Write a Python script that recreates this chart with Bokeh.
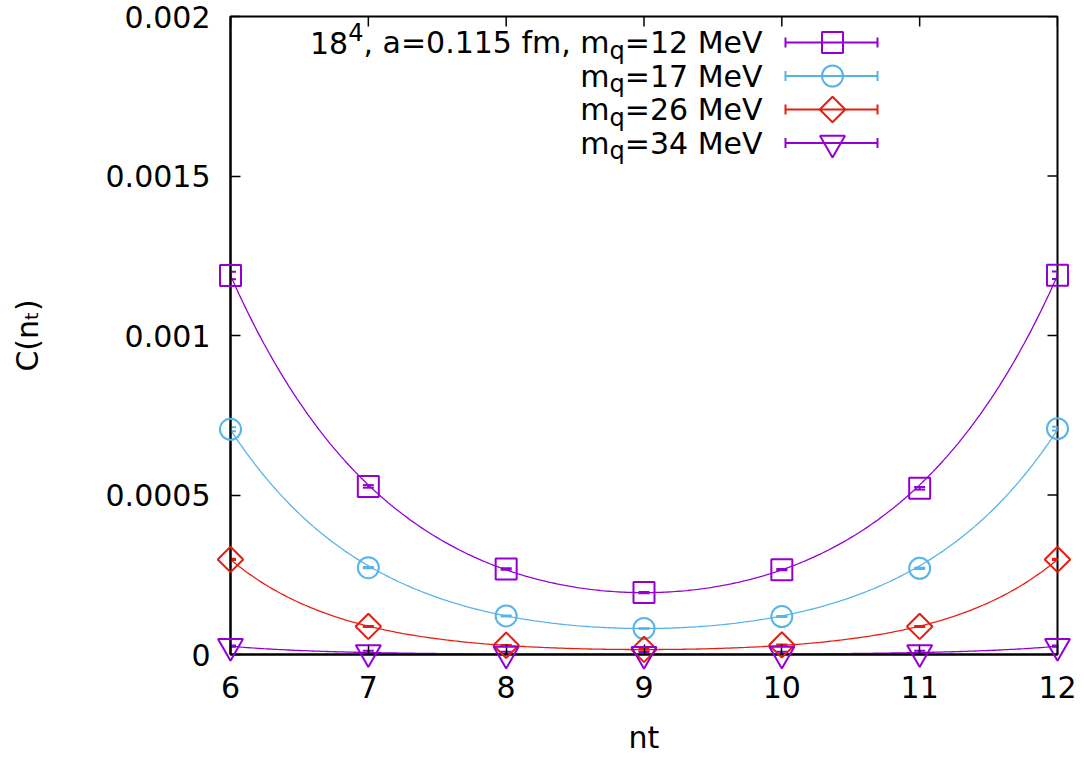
import numpy as np
from bokeh.plotting import figure
from bokeh.models import Range1d, FixedTicker, Label, Whisker, TeeHead, ColumnDataSource
from bokeh.embed import file_html
from bokeh.resources import INLINE

# ---------------- data ----------------
nt = [6, 7, 8, 9, 10, 11, 12]
c_mq12 = [0.001188, 0.000527, 0.000268, 0.000194, 0.000266, 0.000521, 0.001189]
c_mq17 = [0.000706, 0.000272, 0.000121, 0.0000815, 0.000119, 0.000270, 0.000708]
c_mq26 = [0.000298, 0.0000880, 0.0000290, 0.0000160, 0.0000300, 0.0000880, 0.000298]
c_mq34 = [0.0000260, 0.0000060, 0.0000015, 0.0000007, 0.0000015, 0.0000060, 0.0000260]
err_mq12 = [0.000012, 0.000004, 0.000002, 0.000002, 0.000002, 0.000004, 0.000012]
err_mq17 = [0.000006, 0.000002, 0.0000015, 0.000001, 0.0000015, 0.000002, 0.000006]
err_mq26 = [0.000002, 0.0000015, 0.000001, 0.000001, 0.000001, 0.0000015, 0.000002]
err_mq34 = [0.000002, 0.000006, 0.000007, 0.000007, 0.000007, 0.000006, 0.000002]
# cosh fit parameters  C(t) = A cosh(m (t - t0))
fit_amp = [0.000194, 0.0000815, 0.0000155, 0.0000007]
fit_mass = [0.833, 0.949, 1.216, 1.434]
fit_t0 = 9.0
mq_values = ["12", "17", "26", "34"]
x_ticks = [6, 7, 8, 9, 10, 11, 12]
y_ticks = [0.0, 0.0005, 0.001, 0.0015, 0.002]
y_tick_labels = ["0", "0.0005", "0.001", "0.0015", "0.002"]
x_title = "nt"
y_title = "C(n\u209c)"

series = [c_mq12, c_mq17, c_mq26, c_mq34]
errors = [err_mq12, err_mq17, err_mq26, err_mq34]
colors = ["#9400d3", "#56b4e9", "#e51e10", "#9400d3"]
markers = ["square", "circle", "square", "inverted_triangle"]
msizes = [21, 21, 18, 25]
mangles = [0.0, 0.0, np.pi / 4, 0.0]

FONT = "DejaVu Sans"
FS = 30
SUB = 24

# ---------------- layout helpers (picture px -> data) ----------------
FL, FR, FT, FB = 230, 1057, 16, 654
X0, X1, Y0, Y1 = 6.0, 12.0, 0.0, 0.002
W, H = 1080, 758


def px2x(px):
    return X0 + (px - FL) / (FR - FL) * (X1 - X0)


def px2y(py):
    return Y0 + (FB - py) / (FB - FT) * (Y1 - Y0)


ADV = {' ': 651, ',': 651, '.': 651, '=': 1716, 'a': 1255, 'f': 721, 'm': 1995, 'q': 1300,
       'M': 1767, 'e': 1260, 'V': 1401, '(': 799, ')': 799, 'C': 1430, 'n': 1298, 't': 803}


def tw(s, size):
    return sum(ADV.get(ch, 1303) for ch in s) / 2048.0 * size


p = figure(width=W, height=H, output_backend="svg", toolbar_location=None,
           x_range=Range1d(X0, X1), y_range=Range1d(Y0, Y1),
           min_border_left=FL, min_border_right=W - FR, min_border_top=FT,
           min_border_bottom=H - FB)
p.grid.visible = False
p.outline_line_color = "black"
p.outline_line_width = 2
p.background_fill_color = "white"
p.border_fill_color = "white"

p.xaxis.ticker = FixedTicker(ticks=x_ticks)
p.yaxis.ticker = FixedTicker(ticks=y_ticks)
p.yaxis.major_label_overrides = {float(v): lab for v, lab in zip(y_ticks, y_tick_labels)}
for ax in (p.xaxis, p.yaxis):
    ax.major_tick_in = 10
    ax.major_tick_out = 0
    ax.minor_tick_in = 0
    ax.minor_tick_out = 0
    ax.major_tick_line_width = 1.5
    ax.axis_line_width = 2
    ax.axis_line_color = "black"
    ax.major_tick_line_color = "black"
    ax.major_label_text_font = FONT
    ax.major_label_text_font_size = f"{FS}px"
    ax.major_label_text_color = "black"
    ax.axis_label_text_font = FONT
    ax.axis_label_text_font_size = f"{FS}px"
    ax.axis_label_text_font_style = "normal"
    ax.axis_label_text_color = "black"
p.xaxis.major_label_standoff = 21
p.yaxis.major_label_standoff = 20
p.xaxis.axis_label = x_title
p.xaxis.axis_label_standoff = 19
p.yaxis.axis_label = y_title
p.yaxis.axis_label_standoff = 58

# mirrored ticks on the top and right edges
tick_dx = 10 * (X1 - X0) / (FR - FL)
tick_dy = 10 * (Y1 - Y0) / (FB - FT)
p.segment(x0=x_ticks, y0=[Y1] * len(x_ticks), x1=x_ticks, y1=[Y1 - tick_dy] * len(x_ticks),
          line_color="black", line_width=1.5)
p.segment(x0=[X1] * len(y_ticks), y0=y_ticks, x1=[X1 - tick_dx] * len(y_ticks), y1=y_ticks,
          line_color="black", line_width=1.5)

# ---------------- curves, error bars, markers ----------------
tt = np.linspace(6, 12, 300)
for A, m, col in zip(fit_amp, fit_mass, colors):
    p.line(tt, A * np.cosh(m * (tt - fit_t0)), line_color=col, line_width=1.3)

for ys, es, col, mk, ms, ang in zip(series, errors, colors, markers, msizes, mangles):
    ys = np.array(ys)
    es = np.array(es)
    src = ColumnDataSource(dict(x=nt, y=ys, up=ys + es, lo=ys - es))
    w = Whisker(base="x", upper="up", lower="lo", source=src, dimension="height",
                line_color=col, line_width=2,
                upper_head=TeeHead(size=11, line_color=col, line_width=2),
                lower_head=TeeHead(size=11, line_color=col, line_width=2))
    p.add_layout(w)
    p.scatter("x", "y", source=src, marker=mk, size=ms, angle=ang, fill_color=None,
              line_color=col, line_width=2, level="overlay")

# ---------------- legend (built by hand for sub/superscripts) ----------------
R = 762
row_y = [42, 75.5, 109, 142.5]
eq_w = tw("=12 MeV", FS)
q_w = tw("q", SUB)
m_w = tw("m", FS)


def lab(xp, yp, text, size):
    p.add_layout(Label(x=px2x(xp), y=px2y(yp), text=text, text_font=FONT,
                       text_font_size=f"{size}px", text_align="right",
                       text_baseline="alphabetic", text_color="black"))


for i, (mq, col, mk, ms, ang) in enumerate(zip(mq_values, colors, markers, msizes, mangles)):
    yb = row_y[i]
    lab(R, yb, f"={mq} MeV", FS)
    lab(R - eq_w, yb + 8, "q", SUB)
    lab(R - eq_w - q_w, yb, "m", FS)
    if i == 0:
        xr = R - eq_w - q_w - m_w
        pre = ", a=0.115 fm, "
        lab(xr, yb, pre, FS)
        xr -= tw(pre, FS)
        lab(xr, yb - 11, "4", SUB)
        xr -= tw("4", SUB)
        lab(xr, yb, "18", FS)
    ly = px2y(row_y[i])
    p.segment(x0=[px2x(785)], y0=[ly], x1=[px2x(877)], y1=[ly], line_color=col, line_width=2)
    for cx in (785, 877):
        p.segment(x0=[px2x(cx)], y0=[px2y(row_y[i] - 5)], x1=[px2x(cx)],
                  y1=[px2y(row_y[i] + 5)], line_color=col, line_width=2)
    p.scatter([px2x(832)], [ly], marker=mk, size=ms, angle=ang, fill_color=None,
              line_color=col, line_width=2)

open("out.html", "w").write(file_html(p, INLINE))
